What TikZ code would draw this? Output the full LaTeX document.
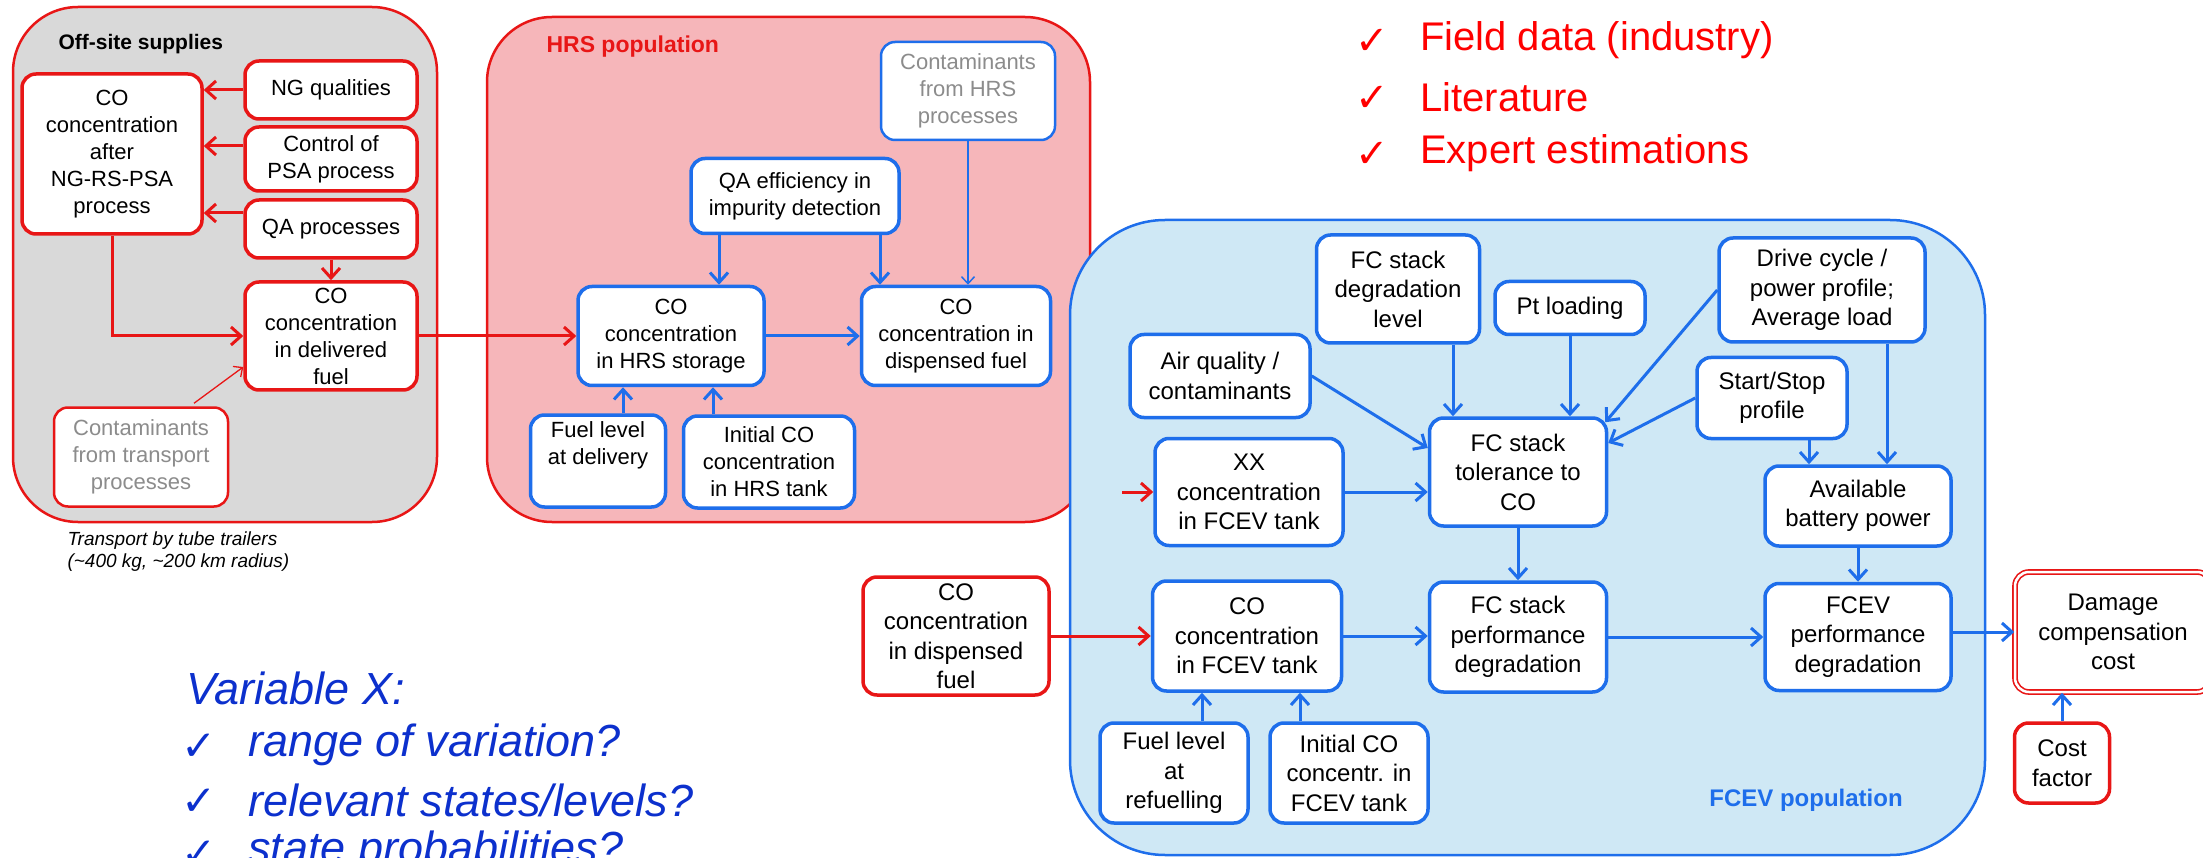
\documentclass[tikz,border=0pt]{standalone}
\usepackage{fontspec}
\setmainfont{Liberation Sans}
\newfontfamily\symfont{DejaVu Sans}
\usetikzlibrary{arrows.meta}
\definecolor{mred}{RGB}{232,22,22}
\definecolor{mblue}{RGB}{30,110,235}
\definecolor{offgray}{RGB}{217,217,217}
\definecolor{hrspink}{RGB}{246,182,186}
\definecolor{fcevfill}{RGB}{207,232,245}
\definecolor{ptext}{RGB}{255,0,0}
\definecolor{btext}{RGB}{12,48,205}
\definecolor{gtext}{RGB}{140,140,140}
\tikzset{
  nd/.style={draw, fill=white, rounded corners=14pt, line width=3.5pt, align=center, inner sep=0pt, text=black},
  rn/.style={nd, draw=mred, font=\fontsize{22}{27}\selectfont},
  bn/.style={nd, draw=mblue, font=\fontsize{22}{27}\selectfont},
  fn/.style={nd, draw=mblue, font=\fontsize{24}{29.5}\selectfont},
  conn/.style={line width=3pt, -{Straight Barb[length=10pt,width=18pt]}},
  rarr/.style={conn, draw=mred},
  barr/.style={conn, draw=mblue},
  thinr/.style={line width=1.3pt, draw=mred, -{Straight Barb[length=7pt,width=13pt]}},
  thinb/.style={line width=1.5pt, draw=mblue, -{Straight Barb[length=7pt,width=13pt]}},
  grp/.style={line width=2.5pt, rounded corners=65pt},
  pchk/.style={anchor=center, text=ptext, font=\fontsize{40}{44}\symfont},
  bchk/.style={anchor=center, text=btext, font=\fontsize{42}{46}\symfont},
  ptxt/.style={anchor=west, inner sep=0pt, text=ptext, font=\fontsize{40}{48}\selectfont},
  btxt/.style={anchor=west, inner sep=0pt, text=btext, font=\fontsize{45}{52}\itshape\selectfont},
}
\begin{document}
\begin{tikzpicture}[x=1pt,y=-1pt]
\useasboundingbox (0,0) rectangle (2203,858);

% groups
\draw[grp, draw=mred, fill=offgray] (13,7) rectangle (437,522);
\draw[grp, draw=mred, fill=hrspink] (487,17) rectangle (1090,522);
\draw[grp, rounded corners=95pt, draw=mblue, fill=fcevfill] (1070,220) rectangle (1985,855);

\node[anchor=west, font=\fontsize{21}{25}\bfseries] (offlbl) at (55,44) {Off-site supplies};
\node[anchor=west, font=\fontsize{23}{27}\bfseries, text=mred] (hrslbl) at (543,47) {HRS population};
\node[font=\fontsize{24}{28}\bfseries, text=mblue] (fcevlbl) at (1806,800) {FCEV population};

% off-site nodes
\node[rn, minimum width=180pt, minimum height=160pt] (coafter) at (112,154) {CO\\concentration\\after\\NG-RS-PSA\\process};
\node[rn, minimum width=172pt, minimum height=58pt] (ngq) at (331,90) {NG qualities};
\node[rn, minimum width=172pt, minimum height=64pt] (ctrl) at (331,159) {Control of\\PSA process};
\node[rn, minimum width=172pt, minimum height=58pt] (qa) at (331,229) {QA processes};
\node[rn, minimum width=172pt, minimum height=108pt] (deliv) at (331,336) {CO\\concentration\\in delivered\\fuel};
\node[rn, line width=2.5pt, text=gtext, minimum width=174pt, minimum height=99pt] (contt) at (141,457) {Contaminants\\from transport\\processes};
\node[anchor=west, align=left, font=\fontsize{19}{22}\itshape\selectfont] (transp) at (64,552) {Transport by tube trailers\\(\textasciitilde 400 kg, \textasciitilde 200 km radius)};

% HRS nodes
\node[bn, line width=2.5pt, text=gtext, minimum width=174pt, minimum height=98pt] (hcont) at (968,91) {Contaminants\\from HRS\\processes};
\node[bn, minimum width=208pt, minimum height=75pt] (qaeff) at (795,196) {QA efficiency in\\impurity detection};
\node[bn, minimum width=186pt, minimum height=99pt] (hstor) at (671,336) {CO\\concentration\\in HRS storage};
\node[bn, minimum width=189pt, minimum height=99pt] (hdisp) at (956,336) {CO\\concentration in\\dispensed fuel};
\node[bn, minimum width=135pt, minimum height=92pt] (fueldel) at (598,461) {Fuel level\\at delivery\\[8pt]};
\node[bn, minimum width=171pt, minimum height=92pt] (initco) at (769,462) {Initial CO\\concentration\\in HRS tank};

% FCEV nodes
\node[fn, minimum width=180pt, minimum height=83pt] (airq) at (1220,376) {Air quality /\\contaminants};
\node[fn, minimum width=163pt, minimum height=108pt] (fcdeg) at (1398,289) {FC stack\\degradation\\level};
\node[fn, minimum width=150pt, minimum height=53pt] (ptl) at (1570,308) {Pt loading};
\node[fn, minimum width=206pt, minimum height=104pt] (drive) at (1822,290) {Drive cycle /\\power profile;\\Average load};
\node[fn, minimum width=150pt, minimum height=81pt] (ss) at (1772,398) {Start/Stop\\profile};
\node[fn, minimum width=177pt, minimum height=108pt] (tol) at (1518,472) {FC stack\\tolerance to\\CO};
\node[fn, minimum width=188pt, minimum height=107pt] (xx) at (1249,492) {XX\\concentration\\in FCEV tank};
\node[fn, minimum width=186pt, minimum height=80pt] (batt) at (1858,506) {Available\\battery power};
\node[fn, minimum width=189pt, minimum height=110pt] (cofcev) at (1247,636) {CO\\concentration\\in FCEV tank};
\node[fn, minimum width=177pt, minimum height=110pt] (fcperf) at (1518,637) {FC stack\\performance\\degradation};
\node[fn, minimum width=186pt, minimum height=107pt] (fcevperf) at (1858,637) {FCEV\\performance\\degradation};
\node[fn, minimum width=148pt, minimum height=100pt] (fuelref) at (1174,773) {Fuel level\\at\\refuelling};
\node[fn, minimum width=158pt, minimum height=100pt] (initfc) at (1349,773) {Initial CO\\concentr. in\\FCEV tank};
\node[fn, draw=mred, minimum width=186pt, minimum height=118pt] (codisp) at (956,636) {CO\\concentration\\in dispensed\\fuel};
\node[fn, draw=mred, line width=1.6pt, double=white, double distance=2.5pt, minimum width=196pt, minimum height=120pt] (damage) at (2113,632) {Damage\\compensation\\cost};
\node[fn, draw=mred, minimum width=95pt, minimum height=80pt] (costf) at (2062,763) {Cost\\factor};

% text lists
\node[pchk] (pc1) at (1372,42) {✓};
\node[pchk] (pc2) at (1372,99) {✓};
\node[pchk] (pc3) at (1372,155) {✓};
\node[ptxt] (pl1) at (1420,40) {Field data (industry)};
\node[ptxt] (pl2) at (1420,97) {Literature};
\node[ptxt] (pl3) at (1420,153) {Expert estimations};

\node[btxt] (varx) at (186,688) {Variable X:};
\node[bchk] (bc1) at (199,747) {✓};
\node[bchk] (bc2) at (199,802) {✓};
\node[bchk] (bc3) at (199,854) {✓};
\node[btxt] (bl1) at (248,745) {range of variation?};
\node[btxt] (bl2) at (248,800) {relevant states/levels?};
\node[btxt] (bl3) at (248,852) {state probabilities?};

% off-site connectors
\draw[rarr] (ngq.west) -- (coafter.east |- ngq.west);
\coordinate (ctrlA) at ([yshift=13pt]ctrl.west);
\draw[rarr] (ctrlA) -- (coafter.east |- ctrlA);
\coordinate (qaA) at ([yshift=16pt]qa.west);
\draw[rarr] (qaA) -- (coafter.east |- qaA);
\draw[rarr] (qa.south) -- (deliv.north);
\draw[rarr] (coafter.south) |- (deliv.west);
\coordinate (ct1) at ([xshift=53pt,yshift=3pt]contt.north);
\coordinate (ct2) at ([yshift=-31pt]deliv.west);
\draw[thinr] (ct1) -- (ct2);

% HRS connectors
\draw[rarr] (deliv.east) -- (hstor.west |- deliv.east);
\coordinate (qe1) at ([xshift=-76pt]qaeff.south);
\coordinate (qe2) at ([xshift=85pt]qaeff.south);
\draw[barr] (qe1) -- (qe1 |- hstor.north);
\draw[barr] (qe2) -- (qe2 |- hdisp.north);
\draw[thinb] (hcont.south) -- (hcont.south |- hdisp.north);
\draw[barr] (hstor.east) -- (hdisp.west);
\coordinate (fd1) at ([xshift=25pt]fueldel.north);
\draw[barr] (fd1) -- (fd1 |- hstor.south);
\coordinate (ic1) at ([xshift=-56pt]initco.north);
\draw[barr] (ic1) -- (ic1 |- hstor.south);

% FCEV connectors
\coordinate (tolA) at ([yshift=24pt]tol.west);
\draw[barr] (airq.east) -- (tolA);
\coordinate (fdg1) at ([xshift=55pt]fcdeg.south);
\draw[barr] (fdg1) -- (fdg1 |- tol.north);
\draw[barr] (ptl.south) -- (ptl.south |- tol.north);
\coordinate (tolB) at ([xshift=-3pt,yshift=-6pt]tol.north east);
\draw[barr] (drive.west) -- (tolB);
\coordinate (tolC) at ([yshift=29pt]tol.east);
\draw[barr] (ss.west) -- (tolC);
\draw[barr] (xx.east) -- (tol.west |- xx.east);
\coordinate (xxin) at (1122,492);
\draw[rarr] (xxin) -- (xx.west);
\coordinate (ss1) at ([xshift=37pt]ss.south);
\draw[barr] (ss1) -- (ss1 |- batt.north);
\coordinate (dr1) at ([xshift=65pt]drive.south);
\draw[barr] (dr1) -- (dr1 |- batt.north);
\draw[barr] (tol.south) -- (fcperf.north);
\draw[barr] (batt.south) -- (fcevperf.north);
\draw[rarr] (codisp.east) -- (cofcev.west |- codisp.east);
\draw[barr] (cofcev.east) -- (fcperf.west |- cofcev.east);
\draw[barr] (fcperf.east) -- (fcevperf.west |- fcperf.east);
\draw[barr] (damage.west -| fcevperf.east) -- (damage.west);
\draw[barr] (costf.north) -- (costf.north |- damage.south);
\coordinate (fr1) at ([xshift=28pt]fuelref.north);
\draw[barr] (fr1) -- (fr1 |- cofcev.south);
\coordinate (if1) at ([xshift=-49pt]initfc.north);
\draw[barr] (if1) -- (if1 |- cofcev.south);
\end{tikzpicture}
\end{document}
